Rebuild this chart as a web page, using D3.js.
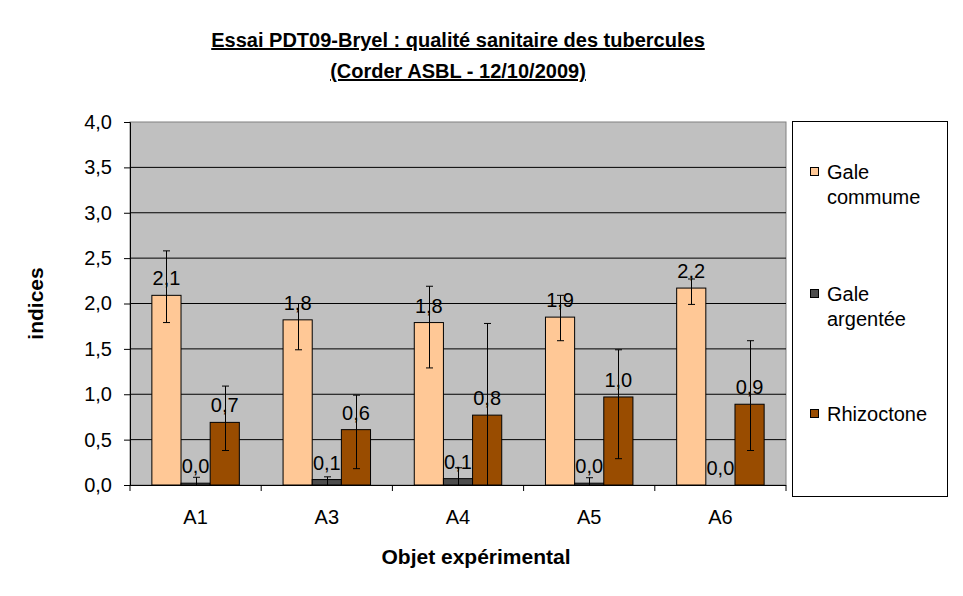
<!DOCTYPE html>
<html>
<head>
<meta charset="utf-8">
<script src="https://cdn.jsdelivr.net/npm/d3@7"></script>
<style>
  body { margin: 0; background: #fff; }
  svg { font-family: "Liberation Sans", Arial, sans-serif; }
</style>
</head>
<body>
<script>
// Chart data
var categories = ["A1", "A3", "A4", "A5", "A6"]
var seriesNames = ["Gale commume", "Gale argentée", "Rhizoctone"]
var legendLines = [["Gale", "commume"], ["Gale", "argentée"], ["Rhizoctone"]]
var colors = ["#FFC896", "#4D4D4D", "#994C00"]

var galeCommune = [2.09, 1.82, 1.79, 1.85, 2.17]
var galeArgentee = [0.02, 0.06, 0.07, 0.02, 0.0]
var rhizoctone = [0.69, 0.61, 0.77, 0.97, 0.89]

// error amounts (plus / minus)
var galeCommunePlus = [0.49, 0.18, 0.40, 0.24, 0.10]
var galeCommuneMinus = [0.30, 0.33, 0.50, 0.26, 0.18]
var galeArgenteePlus = [0.065, 0.03, 0.12, 0.06, 0]
var galeArgenteeMinus = [0.02, 0.06, 0.07, 0.02, 0]
var rhizoctonePlus = [0.40, 0.38, 1.01, 0.52, 0.70]
var rhizoctoneMinus = [0.31, 0.43, 0.77, 0.68, 0.51]

var yTicks = [0, 0.5, 1, 1.5, 2, 2.5, 3, 3.5, 4]

var values = [galeCommune, galeArgentee, rhizoctone]
var plus = [galeCommunePlus, galeArgenteePlus, rhizoctonePlus]
var minus = [galeCommuneMinus, galeArgenteeMinus, rhizoctoneMinus]

var data = []
categories.forEach(function(c, i) {
  seriesNames.forEach(function(s, j) {
    data.push({ cat: c, s: j, v: values[j][i], p: plus[j][i], m: minus[j][i] })
  })
})

var fmt = function(d) { return d.toFixed(1).replace(".", ",") }
var font = "Liberation Sans, Arial, sans-serif"

// Dimensions
var plot = { left: 130, top: 122, right: 786, bottom: 485 }
var width = 963, height = 596

var svg = d3.select("body").append("svg")
    .attr("width", width)
    .attr("height", height)

// Scales
var x = d3.scaleBand().domain(categories).range([plot.left, plot.right])
var barW = x.bandwidth() / 4.5
var xs = d3.scaleBand().domain([0, 1, 2])
    .range([0.75 * barW, 3.75 * barW])
var y = d3.scaleLinear().domain([0, 4]).range([plot.bottom, plot.top])

// Plot background
svg.append("rect")
    .attr("x", plot.left).attr("y", plot.top)
    .attr("width", plot.right - plot.left)
    .attr("height", plot.bottom - plot.top)
    .attr("fill", "#C0C0C0")
    .attr("stroke", "#808080")

// Gridlines
svg.append("g").selectAll("line")
    .data(yTicks.filter(function(d) { return d > 0 && d < 4 }))
    .enter().append("line")
    .attr("x1", plot.left).attr("x2", plot.right)
    .attr("y1", function(d) { return y(d) }).attr("y2", function(d) { return y(d) })
    .attr("stroke", "#000")

// Bars
svg.append("g").selectAll("rect")
    .data(data)
    .enter().append("rect")
    .attr("x", function(d) { return x(d.cat) + xs(d.s) })
    .attr("y", function(d) { return y(d.v) })
    .attr("width", xs.bandwidth())
    .attr("height", function(d) { return y(0) - y(d.v) })
    .attr("fill", function(d) { return colors[d.s] })
    .attr("stroke", "#000")
    .attr("stroke-width", 1)

// Data labels
svg.append("g").selectAll("text")
    .data(data)
    .enter().append("text")
    .attr("x", function(d) { return x(d.cat) + xs(d.s) + xs.bandwidth() / 2 })
    .attr("y", function(d) { return y(d.v) - 10 })
    .attr("text-anchor", "middle")
    .attr("font-size", 20)
    .attr("fill", "#000")
    .text(function(d) { return fmt(d.v) })

// Error bars
var err = svg.append("g").attr("stroke", "#000").attr("stroke-width", 1)
data.filter(function(d) { return d.p > 0 || d.m > 0 }).forEach(function(d) {
  var cx = Math.round(x(d.cat) + xs(d.s) + xs.bandwidth() / 2) + 0.5
  var hi = y(d.v + d.p)
  var lo = y(Math.max(0, d.v - d.m))
  err.append("line").attr("x1", cx).attr("x2", cx).attr("y1", hi).attr("y2", lo)
  err.append("line").attr("x1", cx - 3.5).attr("x2", cx + 3.5).attr("y1", hi).attr("y2", hi)
  if (d.v - d.m > 0)
    err.append("line").attr("x1", cx - 3.5).attr("x2", cx + 3.5).attr("y1", lo).attr("y2", lo)
})

// Y axis
var yAxis = d3.axisLeft(y).tickValues(yTicks).tickFormat(fmt).tickSize(6).tickPadding(12)
var gy = svg.append("g")
    .attr("transform", "translate(" + plot.left + ",0)")
    .call(yAxis)
gy.select(".domain").attr("stroke", "#000")
gy.selectAll("text").attr("font-size", 20).attr("fill", "#000")
    .attr("font-family", font)

// X axis
var xAxis = d3.axisBottom(x).tickSize(0).tickPadding(25)
var gx = svg.append("g")
    .attr("transform", "translate(0," + plot.bottom + ")")
    .call(xAxis)
gx.select(".domain").attr("stroke", "#000").attr("d", "M" + plot.left + ",0.5H" + plot.right)
gx.selectAll("text").attr("font-size", 20).attr("fill", "#000")
    .attr("font-family", font)
gx.selectAll("line.bound")
    .data(categories.map(function(c) { return x(c) }).concat([plot.right]))
    .enter().append("line")
    .attr("class", "bound")
    .attr("x1", function(d) { return d }).attr("x2", function(d) { return d })
    .attr("y1", 0).attr("y2", 6)
    .attr("stroke", "#000")

// Title
var title = svg.append("text")
    .attr("x", (plot.left + plot.right) / 2)
    .attr("text-anchor", "middle")
    .attr("font-size", 20)
    .attr("font-weight", "bold")
    .style("text-decoration", "underline")
title.append("tspan").attr("x", (plot.left + plot.right) / 2).attr("y", 47)
    .text("Essai PDT09-Bryel  : qualité sanitaire des tubercules")
title.append("tspan").attr("x", (plot.left + plot.right) / 2).attr("y", 78)
    .text("(Corder ASBL - 12/10/2009)")

// Axis titles
svg.append("text")
    .attr("transform", "translate(43," + (plot.top + plot.bottom) / 2 + ") rotate(-90)")
    .attr("text-anchor", "middle")
    .attr("font-size", 21)
    .attr("font-weight", "bold")
    .text("indices")

svg.append("text")
    .attr("x", 476).attr("y", 564)
    .attr("text-anchor", "middle")
    .attr("font-size", 21)
    .attr("font-weight", "bold")
    .text("Objet expérimental")

// Legend
svg.append("rect")
    .attr("x", 792.5).attr("y", 121.5)
    .attr("width", 155).attr("height", 375)
    .attr("fill", "#fff").attr("stroke", "#000")

var legendY = [172, 294, 414]
var lg = svg.append("g").selectAll("g")
    .data(legendLines)
    .enter().append("g")
    .attr("transform", function(d, i) { return "translate(810," + legendY[i] + ")" })
lg.append("rect")
    .attr("x", 0.5).attr("y", -4.5)
    .attr("width", 8).attr("height", 8)
    .attr("fill", function(d, i) { return colors[i] })
    .attr("stroke", "#000")
lg.selectAll("text")
    .data(function(d) { return d })
    .enter().append("text")
    .attr("x", 17)
    .attr("y", function(d, k) { return k * 25 + 7 })
    .attr("font-size", 20)
    .text(function(d) { return d })
</script>
</body>
</html>
